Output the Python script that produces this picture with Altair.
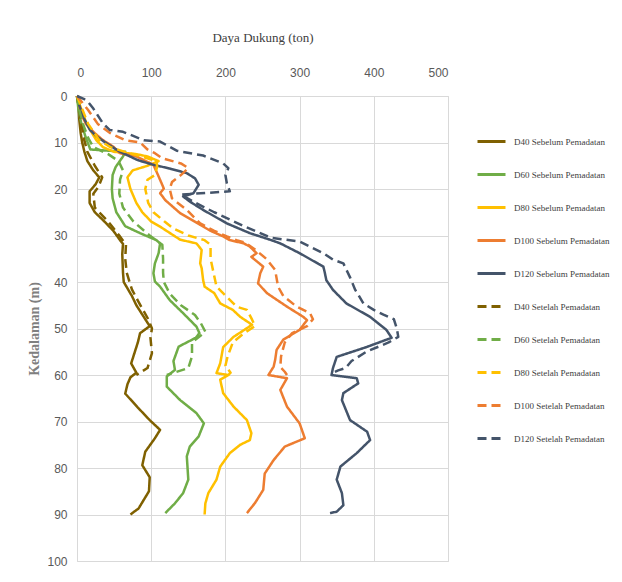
import altair as alt
import pandas as pd

SERIES = [
    "D40 Sebelum Pemadatan", "D60 Sebelum Pemadatan", "D80 Sebelum Pemadatan",
    "D100 Sebelum Pemadatan", "D120 Sebelum Pemadatan",
    "D40 Setelah Pemadatan", "D60 Setelah Pemadatan", "D80 Setelah Pemadatan",
    "D100 Setelah Pemadatan", "D120 Setelah Pemadatan",
]
BASE_COLORS = ["#7F6000", "#70AD47", "#FFC000", "#ED7D31", "#44546A"]
COLORS = BASE_COLORS + BASE_COLORS
DASHES = [[1, 0]] * 5 + [[9, 5]] * 5

X_TICKS = [0, 100, 200, 300, 400, 500]
Y_TICKS = [0, 10, 20, 30, 40, 50, 60, 70, 80, 90, 100]

# ---- D40 ----
D40_SEB_DEPTH = [0, 2, 5, 8, 10, 12, 14, 16, 17.5, 19, 20.5, 23, 25, 27, 29, 31, 31.8, 34, 38, 40,
                 43, 45, 47, 49.5, 51, 53, 55, 57.5, 59.5, 60.5, 62, 64, 67, 69.7, 71.8, 73.6,
                 76.5, 79.4, 82, 85, 88.7, 90]
D40_SEB_VAL = [0, 2, 3, 5, 7, 10, 14, 22, 30, 25, 17, 17, 24, 37, 49, 58, 62, 61, 62, 63,
               74, 80, 88, 98, 85, 82, 78, 73, 80, 72, 68, 65, 82, 98, 112, 105,
               92, 88, 98, 97, 83, 72]
D40_SET_DEPTH = [0, 3, 6, 9, 12, 15, 17.5, 19.5, 21, 24, 27, 30, 32, 35, 38, 41.6, 44, 48, 50,
                 52, 55.3, 58.5, 60]
D40_SET_VAL = [0, 3, 6, 9, 14, 24, 34, 29, 22, 24, 42, 57, 66, 65, 67, 74, 82, 96, 101,
               99, 101, 95, 80]

# ---- D60 ----
D60_SEB_DEPTH = [0, 3, 6, 9, 11.5, 12, 13, 15.3, 17, 20, 22, 25, 28, 29.5, 31, 31.7, 33.8, 36,
                 38.1, 39.9, 41, 43.9, 46.7, 49.6, 51, 52, 53.9, 57, 58.9, 60.3, 62.5, 65.4,
                 68.2, 70.4, 73.2, 75.4, 77.5, 80, 82.5, 85.4, 87.6, 89.7]
D60_SEB_VAL = [0, 2, 6, 12, 18, 65, 62, 52, 48, 47, 48, 53, 65, 85, 107, 112, 110, 105,
               103, 105, 112, 125, 143, 161, 165, 160, 137, 130, 132, 121, 121, 139,
               161, 171, 164, 152, 148, 149, 150, 143, 132, 119]
D60_SET_DEPTH = [0, 3, 6, 9, 11, 12.5, 14, 16, 18, 21, 24, 27, 30, 32, 35, 38, 40, 42.5, 45,
                 47.1, 48.9, 50.7, 53, 56, 58.5, 60]
D60_SET_VAL = [0, 3, 8, 15, 22, 42, 56, 62, 58, 57, 62, 76, 98, 115, 116, 116, 117, 125, 140,
               159, 167, 173, 155, 155, 150, 121]

# ---- D80 ----
D80_SEB_DEPTH = [0, 2, 6, 9.5, 11, 12, 12.5, 13, 14, 15, 16, 17.5, 20, 23, 25, 27, 28.1, 30.9,
                 31.7, 33.1, 36, 37, 39.6, 41, 42.4, 44.6, 46, 47.5, 49.2, 51.8, 54, 57.5,
                 59.6, 60, 61, 63.9, 66.8, 69.7, 72.5, 74, 75, 76.8, 79.7, 82.5, 85.4, 87.6, 90]
D80_SEB_VAL = [0, 4, 13, 26, 35, 50, 80, 95, 110, 95, 75, 68, 72, 80, 88, 100, 112, 139,
               161, 168, 166, 168, 170, 172, 185, 193, 210, 220, 236, 211, 197, 193,
               188, 204, 193, 197, 211, 229, 235, 233, 220, 206, 193, 188, 177, 173, 172]
D80_SET_DEPTH = [0, 2, 6, 9.5, 11, 12.3, 12.7, 13.4, 14.1, 15.2, 17, 18, 20, 23, 25, 27, 28.5,
                 30, 31, 32, 35, 38, 41, 43.2, 45.3, 46, 48.1, 49.5, 51, 53, 56, 58, 59.5, 60]
D80_SET_VAL = [0, 5, 15, 30, 45, 70, 80, 95, 107, 108, 105, 95, 92, 96, 103, 118, 130,
               150, 172, 180, 180, 184, 188, 202, 215, 229, 236, 240, 225, 210, 203, 200, 207, 204]

# ---- D100 ----
D100_SEB_DEPTH = [0, 2, 4, 6, 8, 9.5, 10.9, 12.3, 13, 14.8, 17.3, 19.9, 20.9, 22.4, 25.2, 27.7,
                  29, 30.2, 31, 31.7, 32.4, 33.8, 34.6, 36.7, 38.1, 40.3, 42.4, 45.3, 47.5,
                  48.2, 50.3, 52.4, 54.6, 56.8, 58.2, 60, 60.7, 63.2, 66.8, 70.4, 73.6, 75.4,
                  78.3, 81.2, 84.7, 87.5, 89.7]
D100_SEB_VAL = [0, 3, 6, 12, 24, 35, 49, 58, 80, 103, 110, 117, 112, 119, 139, 166,
                180, 197, 206, 225, 233, 242, 235, 251, 247, 244, 256, 283, 305,
                310, 300, 278, 269, 267, 265, 258, 283, 274, 283, 300, 307, 280,
                265, 253, 251, 240, 229]
D100_SET_DEPTH = [0, 1.6, 3, 6, 8, 9.5, 10, 11.5, 12.3, 13.4, 14.5, 15.5, 17, 18.5, 20, 22, 24.5,
                  27.4, 29, 30.2, 31, 31.5, 33, 35, 37.4, 41, 43, 45.3, 46.7, 48, 49.5, 51, 53,
                  56, 58.3, 59.3, 60]
D100_SET_VAL = [0, 8, 15, 28, 45, 65, 85, 95, 105, 115, 140, 150, 140, 128, 125, 128, 148,
                166, 185, 202, 215, 226, 240, 255, 267, 271, 278, 296, 314, 318, 310, 290, 280,
                275, 274, 280, 283]

# ---- D120 ----
D120_SEB_DEPTH = [0, 2, 5, 7.3, 8.7, 10.2, 12, 13.8, 14.8, 15.6, 16.6, 17.7, 19.1, 20.9, 21.6,
                  22.7, 24.5, 27.4, 29.5, 30.9, 31.7, 33.8, 36.7, 38, 39.6, 41.7, 44.6, 47.5,
                  50.3, 52, 54, 56.1, 58.5, 60, 60.7, 61.8, 63.9, 65.4, 69.7, 72.2, 74, 76.8,
                  79.7, 82.5, 85.4, 88, 89.4, 89.7]
D120_SEB_VAL = [0, 3, 10, 17.5, 26.5, 40, 58, 82, 103, 125, 148, 159, 164, 157, 143,
                152, 170, 202, 233, 260, 274, 300, 332, 334, 336, 345, 363, 395,
                417, 424, 390, 350, 345, 343, 377, 379, 359, 357, 368, 391, 395, 377,
                355, 350, 357, 359, 350, 341]
D120_SET_DEPTH = [0, 0.6, 1.3, 2.7, 5.9, 7.3, 7.7, 9.5, 9.8, 11.8, 12.8, 14.5, 15.5, 17, 18.8,
                  20.5, 21.2, 23, 25, 28, 30.5, 31.3, 33.8, 35.2, 36, 39, 41.7, 43, 44.6, 46,
                  47, 48, 50, 51.8, 53, 55, 57, 58.5, 59, 59.5]
D120_SET_VAL = [0, 9, 15, 22, 35, 44, 62, 90, 112, 135, 170, 197, 204, 200, 202,
                206, 140, 160, 185, 225, 262, 300, 332, 345, 359, 368, 375, 380, 386, 400,
                413, 427, 431, 433, 420, 390, 370, 362, 352, 345]

CURVES = [
    (SERIES[0], D40_SEB_DEPTH, D40_SEB_VAL),
    (SERIES[1], D60_SEB_DEPTH, D60_SEB_VAL),
    (SERIES[2], D80_SEB_DEPTH, D80_SEB_VAL),
    (SERIES[3], D100_SEB_DEPTH, D100_SEB_VAL),
    (SERIES[4], D120_SEB_DEPTH, D120_SEB_VAL),
    (SERIES[5], D40_SET_DEPTH, D40_SET_VAL),
    (SERIES[6], D60_SET_DEPTH, D60_SET_VAL),
    (SERIES[7], D80_SET_DEPTH, D80_SET_VAL),
    (SERIES[8], D100_SET_DEPTH, D100_SET_VAL),
    (SERIES[9], D120_SET_DEPTH, D120_SET_VAL),
]

rows = []
for name, ds, vs in CURVES:
    for i, (d, v) in enumerate(zip(ds, vs)):
        rows.append({"series": name, "i": i, "depth": d, "value": v})
df = pd.DataFrame(rows)

SANS = "Liberation Sans Narrow, Liberation Sans, sans-serif"
SERIF = "Liberation Serif, serif"

chart = alt.Chart(df).mark_line(strokeWidth=2.5, strokeJoin="round").encode(
    x=alt.X(
        "value:Q",
        scale=alt.Scale(domain=[0, 500], nice=False, zero=True),
        axis=alt.Axis(
            orient="top", values=X_TICKS, title="Daya Dukung (ton)",
            labelPadding=17, titlePadding=22,
        ),
    ),
    y=alt.Y(
        "depth:Q",
        scale=alt.Scale(domain=[0, 100], reverse=True, nice=False),
        axis=alt.Axis(
            values=Y_TICKS, title="Kedalaman (m)", labelPadding=10, titlePadding=5,
            titleFontWeight="bold", titleFontSize=14, titleColor="#7f7f7f",
        ),
    ),
    color=alt.Color("series:N", scale=alt.Scale(domain=SERIES, range=COLORS), title=None),
    strokeDash=alt.StrokeDash("series:N", scale=alt.Scale(domain=SERIES, range=DASHES), title=None),
    order=alt.Order("i:Q"),
).properties(
    width=371,
    height=465,
    autosize=alt.AutoSizeParams(type="none"),
    padding={"left": 69, "top": 88, "right": 166, "bottom": 16},
).configure_view(
    stroke="#d9d9d9",
).configure_axis(
    grid=True, gridColor="#d9d9d9", gridWidth=1,
    ticks=False, domain=False,
    labelFont=SANS, labelFontSize=12, labelColor="#595959",
    titleFont=SERIF, titleFontSize=13, titleFontWeight="normal", titleColor="#404040",
).configure_legend(
    orient="none", legendX=399, legendY=30, padding=0,
    symbolType="stroke", symbolSize=784, symbolStrokeWidth=3,
    rowPadding=11, labelOffset=7, labelLimit=200,
    labelFont=SERIF, labelFontSize=9, labelColor="#404040",
)

chart.save("out.html", embed_options={"renderer": "svg", "actions": False})
